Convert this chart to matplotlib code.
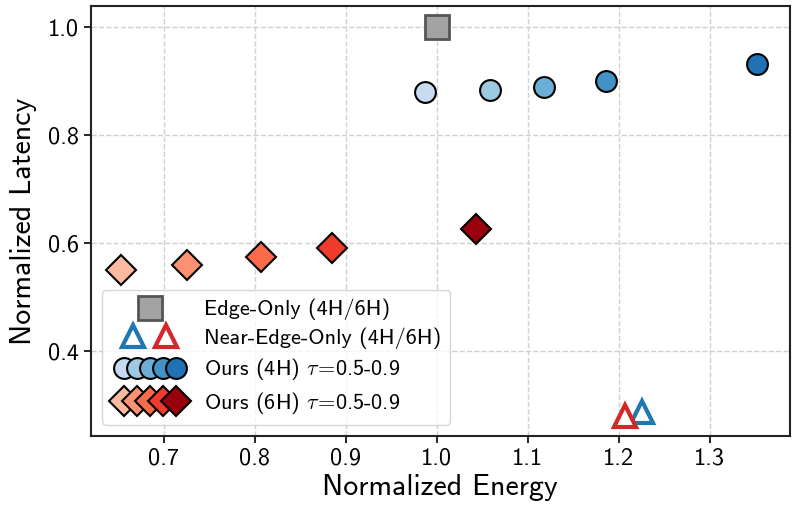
import matplotlib
matplotlib.use("Agg")
import matplotlib.pyplot as plt
from matplotlib.legend_handler import HandlerTuple

plt.rcParams['font.family'] = ['cmss10', 'DejaVu Sans']
plt.rcParams['mathtext.fontset'] = 'cm'
plt.rcParams['axes.unicode_minus'] = False

# data
edge_energy = [1.0]
edge_latency = [1.0]

near_energy_4h = [1.226]
near_latency_4h = [0.287]
near_energy_6h = [1.207]
near_latency_6h = [0.279]

ours_energy_4h = [0.987, 1.059, 1.118, 1.186, 1.352]
ours_latency_4h = [0.880, 0.883, 0.889, 0.900, 0.931]
ours_energy_6h = [0.653, 0.726, 0.807, 0.885, 1.043]
ours_latency_6h = [0.550, 0.559, 0.574, 0.591, 0.626]

blues = ["#c6dbef", "#9ecae1", "#6baed6", "#4292c6", "#2171b5"]
reds = ["#fcbba1", "#fc9272", "#fb6a4a", "#ef3b2c", "#99000d"]

fig = plt.figure(figsize=(7.97, 5.17), dpi=100)
ax = fig.add_axes([0.114, 0.157, 0.877, 0.831])

sq, = ax.plot(edge_energy, edge_latency, 's', ms=17, mfc='#a3a3a3', mec='#555555', mew=2, zorder=3)
tri_b, = ax.plot(near_energy_4h, near_latency_4h, '^', ms=16, mfc='white', mec='tab:blue', mew=3, zorder=3)
tri_r, = ax.plot(near_energy_6h, near_latency_6h, '^', ms=16, mfc='white', mec='tab:red', mew=3, zorder=3)

circ = []
for x, y, c in zip(ours_energy_4h, ours_latency_4h, blues):
    h, = ax.plot([x], [y], 'o', ms=15, mfc=c, mec='black', mew=1.5, zorder=3)
    circ.append(h)
dia = []
for x, y, c in zip(ours_energy_6h, ours_latency_6h, reds):
    h, = ax.plot([x], [y], 'D', ms=15, mfc=c, mec='black', mew=1.5, zorder=3)
    dia.append(h)

ax.set_xlim(0.620, 1.388)
ax.set_ylim(0.243, 1.039)
ax.set_xticks([0.7, 0.8, 0.9, 1.0, 1.1, 1.2, 1.3])
ax.set_yticks([0.4, 0.6, 0.8, 1.0])
ax.tick_params(labelsize=17.5, width=1.2, length=5)
ax.grid(True, linestyle='--', color='#d0d0d0', linewidth=1)
ax.set_axisbelow(True)
for s in ax.spines.values():
    s.set_linewidth(1.5)
    s.set_color('#222222')

ax.set_xlabel("Normalized Energy", fontsize=21.5, labelpad=3)
ax.set_ylabel("Normalized Latency", fontsize=21.5, labelpad=8)

ax.legend([sq, (tri_b, tri_r), tuple(circ), tuple(dia)],
          ["Edge-Only (4H/6H)", "Near-Edge-Only (4H/6H)",
           r"Ours (4H) $\tau\!=\!$0.5-0.9", r"Ours (6H) $\tau\!=\!$0.5-0.9"],
          handler_map={tuple: HandlerTuple(ndivide=None, pad=-0.56)},
          loc='lower left', fontsize=16, handlelength=3.5, handletextpad=0.7,
          labelspacing=0.33, borderpad=0.4, borderaxespad=0.5)

fig.savefig("out.png", dpi=100)
